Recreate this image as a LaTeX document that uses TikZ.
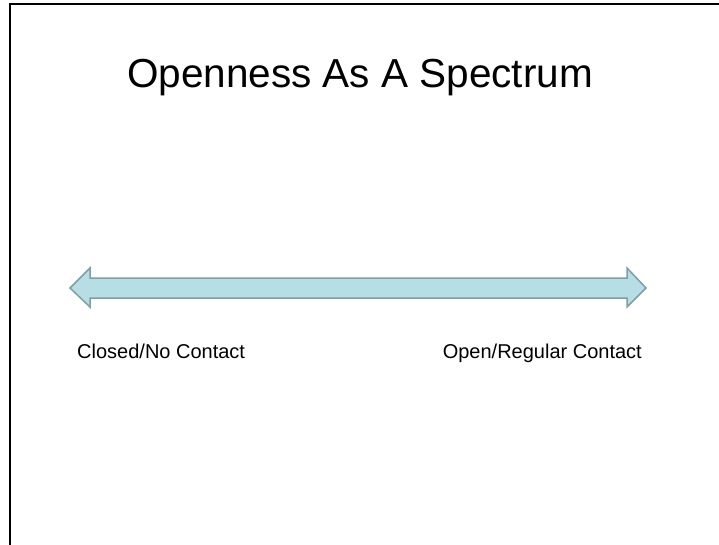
\documentclass[tikz,border=0pt]{standalone}
\usepackage{fontspec}
\setmainfont{Liberation Sans}
\usepackage{xcolor}
\usetikzlibrary{positioning}
\definecolor{spectrumfill}{RGB}{183,222,228}
\definecolor{spectrumedge}{RGB}{125,160,166}
\tikzset{
    slidetitle/.style={font=\fontsize{40.5}{48}\selectfont, inner sep=0pt, anchor=base}, % big heading
    endtext/.style={font=\fontsize{20}{24}\selectfont, inner sep=0pt}, % text under the ends
    spectrum/.style={fill=spectrumfill, draw=spectrumedge, line width=1.5pt, line join=miter},
    slideframe/.style={draw=black, line width=2.4pt},
}

\begin{document}
\begin{tikzpicture}[x=1pt,y=-1pt]
    \useasboundingbox (0,0) rectangle (719,544);
    \clip (0,0) rectangle (719,544);
    \draw[slideframe] (10,4) rectangle (740,560);
    \node[slidetitle] (title) at (360,87) {Openness As A Spectrum};
    % the double arrow
    \draw[spectrum] (70,288) -- (90,268) -- (90,278) -- (627,278) -- (627,268) -- (646,288)
        -- (627,307) -- (627,298) -- (90,298) -- (90,307) -- cycle;
    \node[endtext, anchor=base west] (closed) at (77,358) {Closed/No Contact};
    \node[endtext, anchor=base east] (open) at (642,358) {Open/Regular Contact};
\end{tikzpicture}
\end{document}
